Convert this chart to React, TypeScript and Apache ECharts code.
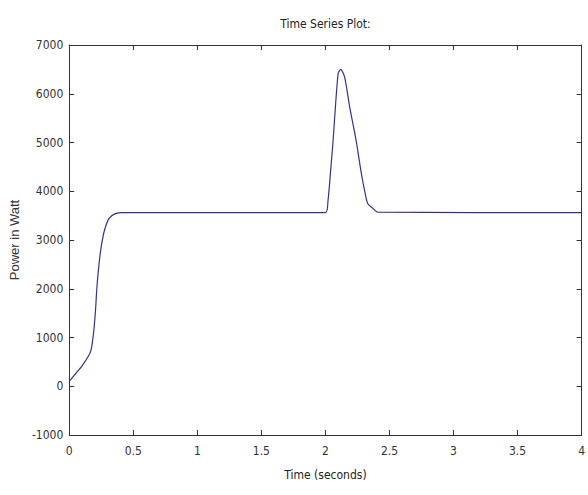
import React, { useEffect, useRef } from "react";
import * as echarts from "echarts";

const titleText = "Time Series Plot:";
const xAxisTitle = "Time (seconds)";
const yAxisTitle = "Power in Watt";

const times = [
  0, 0.05, 0.1, 0.15, 0.17, 0.19, 0.205, 0.215, 0.23, 0.25, 0.275, 0.31, 0.36, 0.42,
  2.0, 2.02, 2.04, 2.06, 2.08, 2.1, 2.12, 2.15, 2.19, 2.24, 2.28, 2.31, 2.33, 2.37, 2.41, 4.0,
];
const power = [
  100, 260, 420, 620, 740, 1100, 1560, 2000, 2450, 2870, 3200, 3440, 3540, 3560,
  3560, 3800, 4400, 5040, 5800, 6420, 6500, 6340, 5720, 5040, 4370, 3960, 3750, 3650, 3570, 3560,
];

const xMin = 0;
const xMax = 4;
const xStep = 0.5;
const yMin = -1000;
const yMax = 7000;
const yStep = 1000;

const narrow = "'DejaVu Sans Condensed', 'Liberation Sans Narrow', 'Arial Narrow', sans-serif";

export default function App() {
  const ref = useRef<HTMLDivElement>(null);
  useEffect(() => {
    if (!ref.current) return;
    const chart = echarts.init(ref.current, null, { renderer: "svg" });
    const data = times.map((t, i) => [t, power[i]]);
    const axisLine = { show: true, onZero: false, lineStyle: { color: "#333", width: 1 } };
    const tick = { show: true, inside: true, length: 5, lineStyle: { color: "#333", width: 1 } };
    const labelStyle = { color: "#333", fontFamily: narrow, fontSize: 12 };
    const fmt = (v: number) => String(v);
    chart.setOption({
      animation: false,
      backgroundColor: "#fff",
      graphic: [
        {
          type: "text",
          x: 325.5,
          y: 24,
          style: {
            text: titleText,
            fill: "#222",
            font: `12px ${narrow}`,
            textAlign: "center",
            textVerticalAlign: "middle",
          },
        },
      ],
      grid: { left: 68, right: 5, top: 45, bottom: 60, containLabel: false },
      xAxis: [
        {
          type: "value",
          min: xMin,
          max: xMax,
          interval: xStep,
          position: "bottom",
          axisLine,
          axisTick: tick,
          splitLine: { show: false },
          axisLabel: { ...labelStyle, margin: 10, formatter: fmt },
          name: xAxisTitle,
          nameLocation: "middle",
          nameGap: 34,
          nameTextStyle: { color: "#222", fontFamily: narrow, fontSize: 12 },
        },
        {
          type: "value",
          min: xMin,
          max: xMax,
          interval: xStep,
          position: "top",
          axisLine,
          axisTick: tick,
          splitLine: { show: false },
          axisLabel: { show: false },
        },
      ],
      yAxis: [
        {
          type: "value",
          min: yMin,
          max: yMax,
          interval: yStep,
          position: "left",
          axisLine,
          axisTick: tick,
          splitLine: { show: false },
          axisLabel: { ...labelStyle, margin: 6, formatter: fmt },
          name: yAxisTitle,
          nameLocation: "middle",
          nameGap: 40,
          nameTextStyle: { color: "#333", fontFamily: "'Liberation Sans', Arial, sans-serif", fontSize: 13 },
        },
        {
          type: "value",
          min: yMin,
          max: yMax,
          interval: yStep,
          position: "right",
          axisLine,
          axisTick: tick,
          splitLine: { show: false },
          axisLabel: { show: false },
        },
      ],
      series: [
        {
          type: "line",
          data,
          xAxisIndex: 0,
          yAxisIndex: 0,
          showSymbol: false,
          smooth: 0.25,
          lineStyle: { color: "#33338f", width: 1.2 },
        },
      ],
    });
    return () => chart.dispose();
  }, []);
  return (
    <div
      ref={ref}
      style={{ position: "absolute", left: 0, top: 0, width: 588, height: 495 }}
    />
  );
}
